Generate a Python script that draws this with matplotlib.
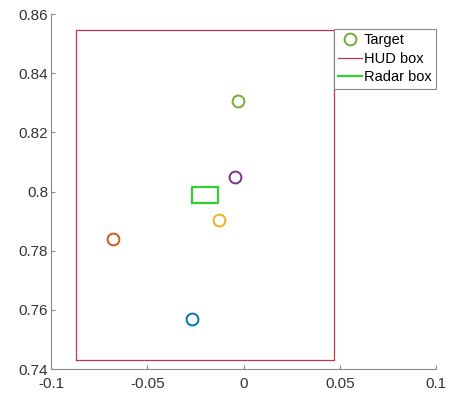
import matplotlib.pyplot as plt
import numpy as np

plt.rcParams['font.family'] = ['Liberation Sans', 'DejaVu Sans']

# Target positions (x, y), in MATLAB default colour order
target_x = [-0.0269, -0.0678, -0.0127, -0.0043, -0.0030]
target_y = [0.7568, 0.7841, 0.7903, 0.8051, 0.8306]
target_colors = ['#0072BD', '#D95319', '#EDB120', '#7E2F8E', '#77AC30']

# HUD box corners
hud_x = [-0.0870, 0.0469, 0.0469, -0.0870, -0.0870]
hud_y = [0.7430, 0.7430, 0.8547, 0.8547, 0.7430]

# Radar box corners
radar_x = [-0.0266, -0.0133, -0.0133, -0.0266, -0.0266]
radar_y = [0.7961, 0.7961, 0.8015, 0.8015, 0.7961]

xticks = [-0.1, -0.05, 0, 0.05, 0.1]
xtick_labels = ['-0.1', '-0.05', '0', '0.05', '0.1']
yticks = [0.74, 0.76, 0.78, 0.8, 0.82, 0.84, 0.86]
ytick_labels = ['0.74', '0.76', '0.78', '0.8', '0.82', '0.84', '0.86']

fig = plt.figure(figsize=(4.49, 3.93), dpi=100)
ax = fig.add_axes([0.1136, 0.061, 0.8575, 0.903])

handles = []
for x, y, c in zip(target_x, target_y, target_colors):
    h, = ax.plot(x, y, 'o', mfc='none', mec=c, ms=8.5, mew=1.4)
    handles.append(h)
h_hud, = ax.plot(hud_x, hud_y, color='#B83A4A', lw=0.9)
h_radar, = ax.plot(radar_x, radar_y, color='#33CC33', lw=1.6)

ax.set_xlim(-0.1, 0.1)
ax.set_ylim(0.74, 0.86)
ax.set_xticks(xticks)
ax.set_xticklabels(xtick_labels)
ax.set_yticks(yticks)
ax.set_yticklabels(ytick_labels)

for s in ['top', 'right']:
    ax.spines[s].set_visible(False)
for s in ['left', 'bottom']:
    ax.spines[s].set_color('#8a8a8a')
    ax.spines[s].set_linewidth(0.8)
ax.tick_params(direction='in', length=3, color='#8a8a8a', labelcolor='#333333',
               labelsize=11, pad=2)
ax.tick_params(axis='x', pad=6)

# legend shows the last target (green) like the reference
leg = ax.legend([handles[-1], h_hud, h_radar], ['Target', 'HUD box', 'Radar box'],
                loc='upper left', bbox_to_anchor=(0.735, 0.958), borderaxespad=0,
                fancybox=False, framealpha=1, edgecolor='#8a8a8a', fontsize=10.5,
                handlelength=1.6, handletextpad=0.15, borderpad=0.3, labelspacing=0.3)
leg.get_frame().set_linewidth(0.8)

fig.savefig('out.png', dpi=100)
